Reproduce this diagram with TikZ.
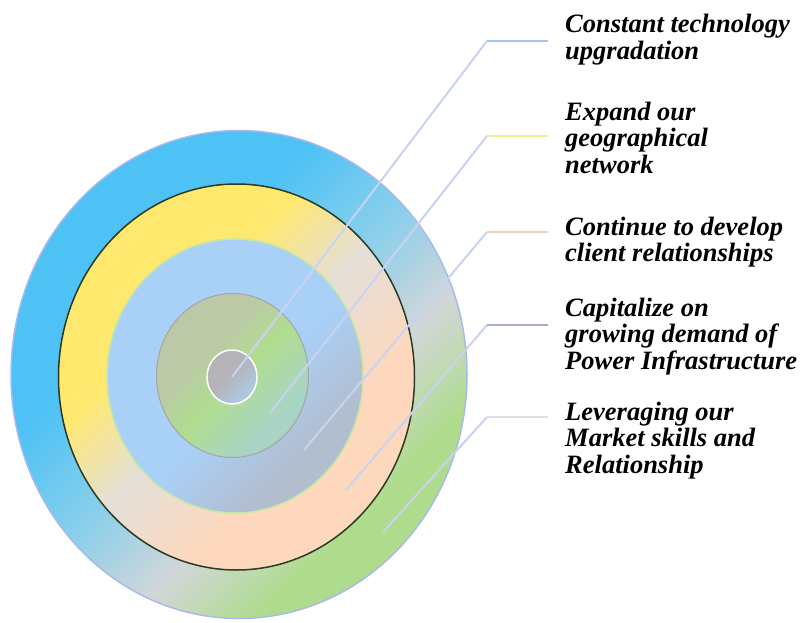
\documentclass[tikz,border=0pt]{standalone}
\usepackage{fontspec}
\setmainfont{Liberation Serif}
\definecolor{oblue}{HTML}{4EC2F5}
\definecolor{oblueb}{HTML}{8CCFEB}
\definecolor{ogray}{HTML}{D2D6D8}
\definecolor{ogreen}{HTML}{AEDC8C}
\definecolor{oline}{HTML}{A9B9EA}
\definecolor{ryellow}{HTML}{FFE86E}
\definecolor{rgray}{HTML}{E4DFD8}
\definecolor{rpeach}{HTML}{FED8BC}
\definecolor{rline}{HTML}{2C3A22}
\definecolor{bblue}{HTML}{A9D0F6}
\definecolor{bgray}{HTML}{B2BDCE}
\definecolor{bline}{HTML}{C6E8A2}
\definecolor{ggreen}{HTML}{B0DD90}
\definecolor{ggray}{HTML}{BBC9A6}
\definecolor{gteal}{HTML}{A8D4C6}
\definecolor{gline}{HTML}{A4A4A4}
\definecolor{cgray}{HTML}{B5B3B8}
\definecolor{cblue}{HTML}{AEC6DE}
\definecolor{leadcol}{HTML}{C9D2F0}
\definecolor{tipA}{HTML}{9EC6EE}
\definecolor{tipB}{HTML}{EFEE96}
\definecolor{tipC}{HTML}{F6CEB6}
\definecolor{tipD}{HTML}{A6AEC8}
\definecolor{tipE}{HTML}{DCDFE8}
\pgfdeclareverticalshading{outershade}{100bp}{color(0bp)=(ogreen); color(30bp)=(ogreen); color(40bp)=(ogray); color(50bp)=(oblueb); color(62bp)=(oblue); color(100bp)=(oblue)}
\pgfdeclareverticalshading{ringshade}{100bp}{color(0bp)=(rpeach); color(36bp)=(rpeach); color(50bp)=(rgray); color(62bp)=(ryellow); color(100bp)=(ryellow)}
\pgfdeclareverticalshading{blueshade}{100bp}{color(0bp)=(bgray); color(30bp)=(bgray); color(46bp)=(bblue); color(100bp)=(bblue)}
\pgfdeclareverticalshading{greenshade}{100bp}{color(0bp)=(gteal); color(30bp)=(gteal); color(48bp)=(ggreen); color(62bp)=(ggray); color(100bp)=(ggray)}
\pgfdeclareverticalshading{coreshade}{100bp}{color(0bp)=(cblue); color(30bp)=(cblue); color(55bp)=(cgray); color(100bp)=(cgray)}

\begin{document}
\begin{tikzpicture}[x=1pt,y=-1pt,
  lbl/.style={anchor=base west,inner sep=0pt,align=left,
    font=\bfseries\itshape\fontsize{26.5}{26.5}\selectfont},
  lead/.style={line width=2pt,leadcol}]
  \useasboundingbox (0,0) rectangle (803,623);
  \shade[shading=outershade,shading angle=45,draw=oline,line width=1.5pt] (239,374.5) ellipse [x radius=228pt,y radius=244pt];
  \shade[shading=ringshade,shading angle=45,draw=rline,line width=1.5pt] (236.5,377) ellipse [x radius=178pt,y radius=193pt];
  \shade[shading=blueshade,shading angle=45,draw=bline,line width=1.5pt] (235,376) ellipse [x radius=128pt,y radius=137pt];
  \shade[shading=greenshade,shading angle=45,draw=gline,line width=1pt] (232.5,375.5) ellipse [x radius=76pt,y radius=82pt];
  \shade[shading=coreshade,shading angle=45,draw=white,line width=1.5pt] (232,377) ellipse [x radius=25pt,y radius=27pt];

  \coordinate (p1) at (232,377);
  \coordinate (p2) at (270,413);
  \coordinate (p3) at (304,450);
  \coordinate (p4) at (346,490);
  \coordinate (p5) at (383,532);
  \coordinate (k1) at (487,41);
  \coordinate (k2) at (487,136);
  \coordinate (k3) at (487,232);
  \coordinate (k4) at (487,325);
  \coordinate (k5) at (487,417);
  \coordinate (e1) at (548,41);
  \coordinate (e2) at (548,136);
  \coordinate (e3) at (548,232);
  \coordinate (e4) at (548,325);
  \coordinate (e5) at (548,417);

  \draw[lead] (p1) -- (k1);
  \draw[lead] (p2) -- (k2);
  \draw[lead] (p3) -- (k3);
  \draw[lead] (p4) -- (k4);
  \draw[lead] (p5) -- (k5);
  \draw[line width=2pt,tipA] (k1) -- (e1);
  \draw[line width=2pt,tipB] (k2) -- (e2);
  \draw[line width=2pt,tipC] (k3) -- (e3);
  \draw[line width=2pt,tipD] (k4) -- (e4);
  \draw[line width=2pt,tipE] (k5) -- (e5);

  % base anchor sits on the last line
  \node[lbl] (t1) at (565,59.5) {Constant technology\\upgradation};
  \node[lbl] (t2) at (565,173) {Expand our\\geographical\\network};
  \node[lbl] (t3) at (565,261.5) {Continue to develop\\client relationships};
  \node[lbl] (t4) at (565,369) {Capitalize on\\growing demand of\\Power Infrastructure};
  \node[lbl] (t5) at (565,473) {Leveraging our\\Market skills and\\Relationship};
\end{tikzpicture}
\end{document}
